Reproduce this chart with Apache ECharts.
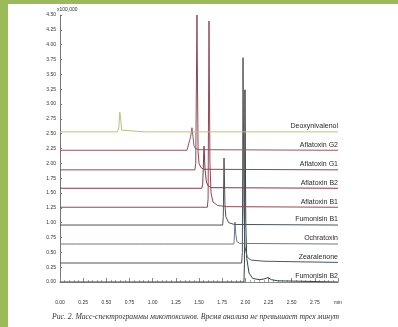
<!DOCTYPE html>
<html>
<head>
<meta charset="utf-8">
<script src="https://cdn.jsdelivr.net/npm/echarts@6/dist/echarts.min.js"></script>
<style>
html,body{margin:0;padding:0;background:#fff;}
#chart{width:398px;height:327px;}
</style>
</head>
<body>
<div id="chart"></div>
<script>
// ---- data (time in min, intensity in x100,000) ----
var seriesNames = ['Deoxynivalenol','Aflatoxin G2','Aflatoxin G1','Aflatoxin B2','Aflatoxin B1','Fumonisin B1','Ochratoxin','Zearalenone','Fumonisin B2'];

var deoxynivalenol = [[0,2.53],[0.42,2.53],[0.43,2.545],[0.44,2.53],[0.62,2.53],[0.635,2.6],[0.645,2.865],[0.655,2.75],[0.665,2.56],[0.68,2.535],[0.91,2.53],[0.92,2.55],[0.93,2.53],[1.05,2.53],[1.06,2.54],[1.07,2.53],[3.0,2.53]];
var aflatoxinG2 = [[0,2.22],[1.37,2.22],[1.39,2.25],[1.41,2.45],[1.424,2.6],[1.435,2.45],[1.445,2.3],[1.46,2.25],[1.48,2.24],[1.5,2.23],[3.0,2.22]];
var aflatoxinG1 = [[0,1.89],[1.455,1.89],[1.465,2.0],[1.478,4.5],[1.49,2.2],[1.5,2.0],[1.52,1.93],[1.55,1.9],[3.0,1.89]];
var aflatoxinB2 = [[0,1.58],[1.53,1.58],[1.54,1.65],[1.554,2.29],[1.565,1.9],[1.58,1.68],[1.6,1.62],[1.63,1.59],[3.0,1.58]];
var aflatoxinB1 = [[0,1.26],[1.59,1.26],[1.598,1.4],[1.608,4.4],[1.618,2.0],[1.63,1.5],[1.65,1.35],[1.7,1.29],[1.8,1.27],[3.0,1.26]];
var fumonisinB1 = [[0,0.96],[0.56,0.96],[0.57,0.975],[0.58,0.96],[0.82,0.96],[0.83,0.975],[0.84,0.96],[1.755,0.96],[1.762,1.1],[1.77,2.09],[1.78,1.3],[1.79,1.1],[1.82,1.0],[1.88,0.97],[3.0,0.96]];
var ochratoxin = [[0,0.64],[0.18,0.64],[0.19,0.655],[0.2,0.64],[0.24,0.64],[0.25,0.655],[0.26,0.64],[0.87,0.64],[0.88,0.655],[0.89,0.64],[1.13,0.64],[1.14,0.655],[1.15,0.64],[1.875,0.64],[1.88,0.7],[1.888,1.01],[1.897,0.8],[1.91,0.68],[1.94,0.65],[3.0,0.64]];
var zearalenone = [[0,0.32],[1.96,0.32],[1.968,0.5],[1.975,3.78],[1.985,1.2],[1.995,0.6],[2.02,0.42],[2.06,0.37],[2.2,0.35],[3.0,0.33]];
var fumonisinB2 = [[0,0.0],[1.985,0.0],[1.99,0.3],[1.996,3.24],[2.005,1.0],[2.015,0.4],[2.04,0.15],[2.08,0.06],[2.15,0.04],[2.2,0.05],[2.245,0.075],[2.28,0.04],[2.35,0.02],[3.0,0.0]];

var seriesData = [deoxynivalenol, aflatoxinG2, aflatoxinG1, aflatoxinB2, aflatoxinB1, fumonisinB1, ochratoxin, zearalenone, fumonisinB2];

var yAxisName = 'x100,000';
var xLastLabel = 'min';
var caption = 'Рис. 2. Масс-спектрограммы микотоксинов. Время анализа не превышает трех минут';

// ---- styles ----
var colors = ['#b9c47c','#8e5a64','#8c4854','#7e3c4a','#8c4a56','#4c525c','#6a7a8a','#4e565e','#3a4242'];

var chart = echarts.init(document.getElementById('chart'), null, {renderer:'canvas'});

var series = seriesNames.map(function(name, i){
  return {
    name: name,
    type: 'line',
    data: seriesData[i],
    symbol: 'none',
    silent: true,
    animation: false,
    lineStyle: {color: colors[i], width: 1},
    z: 10 - i,
    endLabel: {
      show: true,
      formatter: '{a}',
      align: 'right',
      verticalAlign: 'bottom',
      distance: 0,
      offset: [0, -2],
      fontSize: 7,
      color: '#2a2a2a',
      fontFamily: 'Liberation Sans, Arial, sans-serif'
    }
  };
});

chart.setOption({
  backgroundColor: '#ffffff',
  animation: false,
  grid: {left: 60, top: 15, width: 278, height: 267},
  title: {
    text: caption,
    left: 52, top: 313,
    padding: 0,
    textStyle: {fontFamily: 'Liberation Serif, Times New Roman, serif', fontStyle: 'italic', fontWeight: 'normal', fontSize: 7.7, color: '#333'}
  },
  xAxis: {
    type: 'value',
    min: 0, max: 3, interval: 0.25,
    offset: 10,
    axisLine: {show: true, lineStyle: {color: '#8a8a8a', width: 1}},
    axisTick: {show: true, inside: true, length: 4, lineStyle: {color: '#8a8a8a'}},
    minorTick: {show: true, splitNumber: 5, length: 2, lineStyle: {color: '#aaa'}},
    splitLine: {show: false},
    axisLabel: {
      fontSize: 5, color: '#333', margin: 8,
      fontFamily: 'Liberation Sans, Arial, sans-serif',
      formatter: function(v){ return Math.abs(v-3) < 1e-9 ? xLastLabel : v.toFixed(2); }
    }
  },
  yAxis: {
    type: 'value',
    min: 0, max: 4.5, interval: 0.25,
    name: yAxisName,
    nameLocation: 'end',
    nameGap: 3,
    nameTextStyle: {fontSize: 5, color: '#333', align: 'left', padding: [0,0,0,-3], fontFamily: 'Liberation Sans, Arial, sans-serif'},
    axisLine: {show: true, lineStyle: {color: '#777', width: 1}},
    axisTick: {show: true, inside: true, length: 2, lineStyle: {color: '#777'}},
    splitLine: {show: false},
    axisLabel: {
      fontSize: 5, color: '#333', margin: 4,
      fontFamily: 'Liberation Sans, Arial, sans-serif',
      formatter: function(v){ return v.toFixed(2); }
    }
  },
  graphic: [
    {type: 'rect', left: 0, top: 0, shape: {width: 8, height: 327}, style: {fill: '#9bba59'}, silent: true},
    {type: 'rect', left: 0, top: 0, shape: {width: 398, height: 4}, style: {fill: '#9bba59'}, silent: true}
  ],
  series: series
});
</script>
</body>
</html>
